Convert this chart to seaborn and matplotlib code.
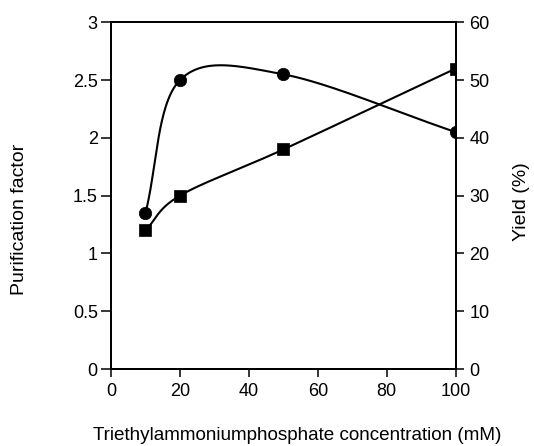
import numpy as np
import pandas as pd
import matplotlib
matplotlib.use("Agg")
import matplotlib.pyplot as plt
import seaborn as sns

# Data
conc = [10, 20, 50, 100]
purification = [1.35, 2.5, 2.55, 2.05]
yield_pct = [24, 30, 38, 52]
x_ticks = [0, 20, 40, 60, 80, 100]
left_ticks = [0, 0.5, 1, 1.5, 2, 2.5, 3]
left_labels = ["0", "0.5", "1", "1.5", "2", "2.5", "3"]
right_ticks = [0, 10, 20, 30, 40, 50, 60]

FIG_W, FIG_H = 534, 446
L, R, T, B = 111, 455.7, 22.3, 369.0
AX_W, AX_H = R - L, B - T


def catmull_rom(x, y, xmax, ymax, n=60):
    # parametric Catmull-Rom in screen space
    P = np.column_stack([np.asarray(x, float) / xmax * AX_W,
                         np.asarray(y, float) / ymax * AX_H])
    k = len(P)
    tang = np.zeros_like(P)
    for i in range(k):
        if i == 0:
            tang[i] = P[1] - P[0]
        elif i == k - 1:
            tang[i] = P[-1] - P[-2]
        else:
            tang[i] = (P[i + 1] - P[i - 1]) / 2
    pts = []
    t = np.linspace(0, 1, n)
    h00 = 2 * t**3 - 3 * t**2 + 1
    h10 = t**3 - 2 * t**2 + t
    h01 = -2 * t**3 + 3 * t**2
    h11 = t**3 - t**2
    for i in range(k - 1):
        seg = (h00[:, None] * P[i] + h10[:, None] * tang[i]
               + h01[:, None] * P[i + 1] + h11[:, None] * tang[i + 1])
        pts.append(seg if i == 0 else seg[1:])
    pts = np.vstack(pts)
    return pts[:, 0] / AX_W * xmax, pts[:, 1] / AX_H * ymax


sns.set_theme(style="white")
plt.rcParams["font.family"] = ["Liberation Sans", "DejaVu Sans"]

fig = plt.figure(figsize=(FIG_W / 100, FIG_H / 100), dpi=100)
ax = fig.add_axes([L / FIG_W, 1 - B / FIG_H, AX_W / FIG_W, AX_H / FIG_H])
ax2 = ax.twinx()

df = pd.DataFrame({"conc": conc, "pf": purification, "yl": yield_pct})

xs, ys = catmull_rom(conc, purification, 100, 3)
ax.plot(xs, ys, color="black", lw=1.5)
sns.scatterplot(data=df, x="conc", y="pf", ax=ax, color="black", marker="o", s=80,
                edgecolor="black", linewidth=0.5, zorder=5)

xs2, ys2 = catmull_rom(conc, yield_pct, 100, 60)
ax2.plot(xs2, ys2, color="black", lw=1.5)
sns.scatterplot(data=df, x="conc", y="yl", ax=ax2, color="black", marker="s", s=85,
                edgecolor="black", linewidth=0.5, zorder=5)

ax.set_xlim(0, 100)
ax.set_ylim(0, 3)
ax2.set_ylim(0, 60)
ax.set_xticks(x_ticks)
ax.set_yticks(left_ticks)
ax.set_yticklabels(left_labels)
ax2.set_yticks(right_ticks)

fs = 13
for a in (ax, ax2):
    for s in a.spines.values():
        s.set_color("black")
        s.set_linewidth(1.3)
ax.tick_params(axis="y", direction="out", length=7, width=1.1, color="black",
               labelsize=fs, labelcolor="black", pad=2.5, left=True)
ax.tick_params(axis="x", direction="out", length=6, width=1.1, color="black",
               labelsize=fs, labelcolor="black", pad=4, bottom=True)
ax2.tick_params(axis="y", direction="out", length=6, width=1.1, color="black",
                labelsize=fs, labelcolor="black", pad=4, right=True)

ax.set_xlabel("Triethylammoniumphosphate concentration (mM)", fontsize=13.6,
              color="black", va="center")
ax.xaxis.set_label_coords((297 - L) / AX_W, (B - 435) / AX_H)
ax.set_ylabel("Purification factor", fontsize=14, color="black", va="center")
ax.yaxis.set_label_coords((19 - L) / AX_W, (B - 219) / AX_H)
ax2.set_ylabel("Yield (%)", fontsize=14, color="black", va="center")
ax2.yaxis.set_label_coords((522 - L) / AX_W, (B - 202) / AX_H)

fig.savefig("out.png", dpi=100)
